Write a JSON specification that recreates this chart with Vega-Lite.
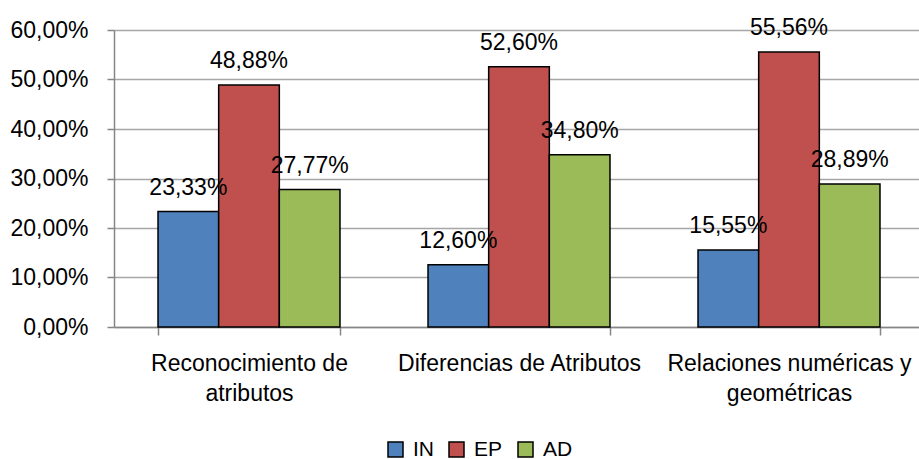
{
  "$schema": "https://vega.github.io/schema/vega-lite/v6.json",
  "width": 805,
  "height": 297,
  "autosize": {"type": "none"},
  "padding": {"left": 114, "top": 30, "right": 0, "bottom": 132},
  "background": "white",
  "config": {
    "locale": {"number": {"decimal": ",", "thousands": ".", "grouping": [3], "currency": ["", " €"]}},
    "view": {"stroke": null},
    "font": "Liberation Sans"
  },
  "data": {
    "values": [
      {"categoria": "Reconocimiento de atributos", "serie": "IN", "valor": 0.2333},
      {"categoria": "Reconocimiento de atributos", "serie": "EP", "valor": 0.4888},
      {"categoria": "Reconocimiento de atributos", "serie": "AD", "valor": 0.2777},
      {"categoria": "Diferencias de Atributos", "serie": "IN", "valor": 0.1260},
      {"categoria": "Diferencias de Atributos", "serie": "EP", "valor": 0.5260},
      {"categoria": "Diferencias de Atributos", "serie": "AD", "valor": 0.3480},
      {"categoria": "Relaciones numéricas y geométricas", "serie": "IN", "valor": 0.1555},
      {"categoria": "Relaciones numéricas y geométricas", "serie": "EP", "valor": 0.5556},
      {"categoria": "Relaciones numéricas y geométricas", "serie": "AD", "valor": 0.2889}
    ]
  },
  "encoding": {
    "x": {
      "field": "categoria",
      "type": "nominal",
      "sort": null,
      "scale": {"range": [0, 810], "paddingInner": 0.326, "paddingOuter": 0.163},
      "axis": {
        "title": null,
        "labelAngle": 0,
        "tickBand": "extent",
        "tickSize": 8,
        "tickColor": "#868686",
        "tickWidth": 1.5,
        "domainColor": "#868686",
        "domainWidth": 1.5,
        "labelFontSize": 23,
        "labelColor": "black",
        "labelLineHeight": 30,
        "labelPadding": 17,
        "labelLimit": 500,
        "labelOverlap": false,
        "labelBound": false,
        "labelExpr": "datum.value == 'Reconocimiento de atributos' ? ['Reconocimiento de', 'atributos'] : datum.value == 'Relaciones numéricas y geométricas' ? ['Relaciones numéricas y', 'geométricas'] : datum.value"
      }
    },
    "y": {
      "field": "valor",
      "type": "quantitative",
      "scale": {"domain": [0, 0.6]},
      "axis": {
        "title": null,
        "values": [0, 0.1, 0.2, 0.3, 0.4, 0.5, 0.6],
        "format": ".2%",
        "grid": true,
        "gridColor": "#a6a6a6",
        "gridWidth": 1.5,
        "domainColor": "#868686",
        "domainWidth": 1.5,
        "tickColor": "#868686",
        "tickWidth": 1.5,
        "tickSize": 7,
        "labelPadding": 19,
        "labelFontSize": 23,
        "labelColor": "black"
      }
    }
  },
  "layer": [
    {
      "mark": {"type": "bar", "stroke": "black", "strokeWidth": 1.5},
      "encoding": {
        "xOffset": {"field": "serie", "type": "nominal", "sort": ["IN", "EP", "AD"], "scale": {"paddingInner": 0, "paddingOuter": 0}},
        "color": {
          "field": "serie",
          "type": "nominal",
          "sort": ["IN", "EP", "AD"],
          "scale": {"domain": ["IN", "EP", "AD"], "range": ["#4F81BD", "#C0504D", "#9BBB59"]},
          "legend": {
            "title": null,
            "orient": "none",
            "legendX": 271,
            "legendY": 409,
            "direction": "horizontal",
            "symbolType": "square",
            "symbolSize": 225,
            "symbolStrokeColor": "black",
            "symbolStrokeWidth": 1.5,
            "labelFontSize": 21,
            "labelColor": "black",
            "labelOffset": 7,
            "columnPadding": 12
          }
        }
      }
    },
    {
      "mark": {"type": "text", "dy": -17, "baseline": "alphabetic", "fontSize": 23, "color": "black"},
      "encoding": {
        "xOffset": {"field": "serie", "type": "nominal", "sort": ["IN", "EP", "AD"], "scale": {"paddingInner": 0, "paddingOuter": 0}},
        "text": {"field": "valor", "type": "quantitative", "format": ".2%"}
      }
    }
  ]
}
